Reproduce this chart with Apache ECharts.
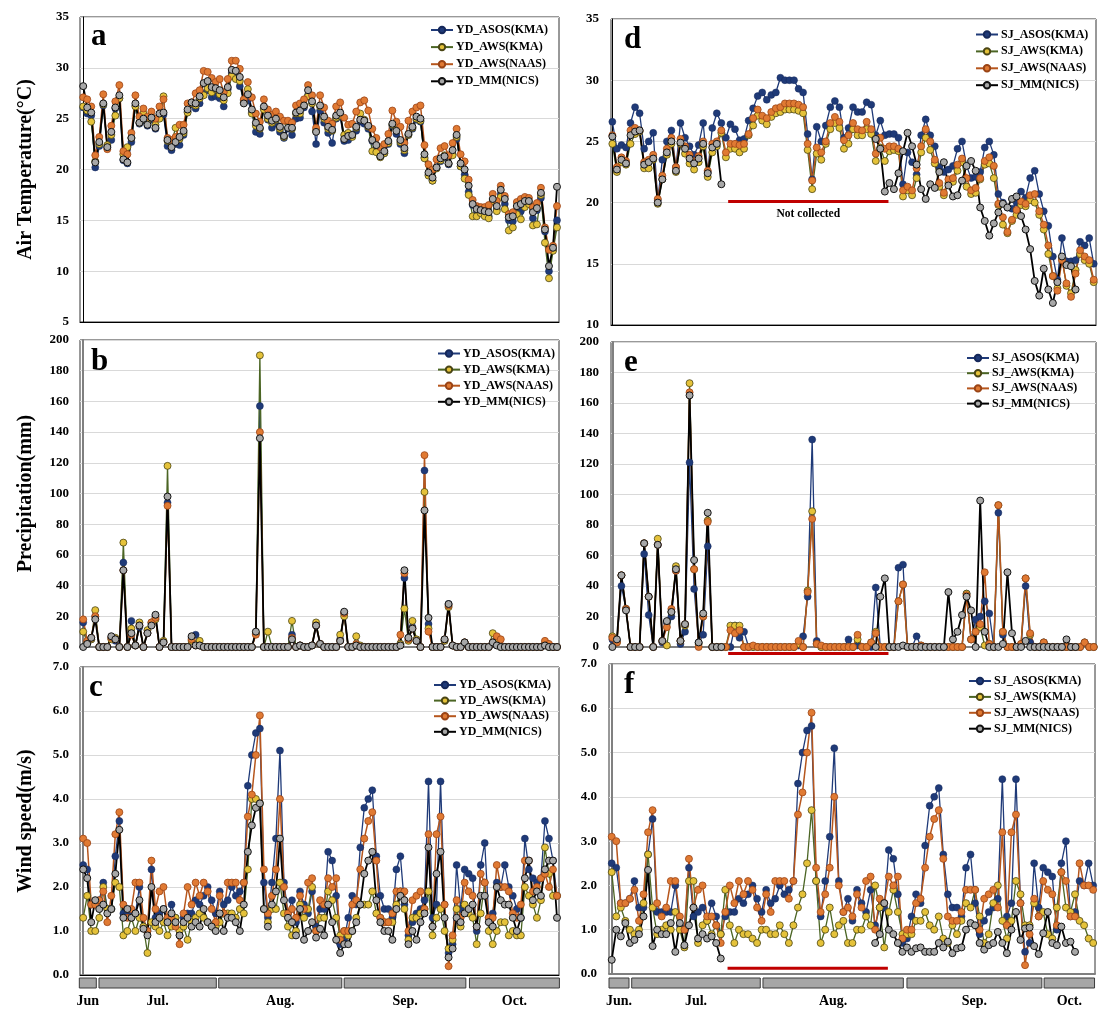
<!DOCTYPE html>
<html><head><meta charset="utf-8">
<script src="https://cdn.jsdelivr.net/npm/echarts@6/dist/echarts.min.js"></script>
<style>html,body{margin:0;padding:0;background:#fff}#c{width:1108px;height:1016px}</style>
</head><body><div id="c"></div>
<script>
// ---------- DATA: left site (YD), day index 0..118 ----------
const namesL = ['YD_ASOS(KMA)','YD_AWS(KMA)','YD_AWS(NAAS)','YD_MM(NICS)'];
const namesR = ['SJ_ASOS(KMA)','SJ_AWS(KMA)','SJ_AWS(NAAS)','SJ_MM(NICS)'];

const a_ASOS = [26.1,25.5,25.3,20.2,22.3,26.3,22.2,22.9,26.0,27.0,20.9,20.6,22.7,26.3,24.5,24.8,24.3,24.9,24.0,25.3,25.4,22.3,21.9,22.5,22.4,23.4,25.7,26.4,26.0,26.5,27.5,27.8,27.1,27.2,27.0,26.2,27.9,29.5,29.4,28.2,26.8,26.8,25.6,23.7,23.5,26.0,24.9,24.1,24.5,23.7,23.1,24.0,23.4,25.0,25.1,26.1,27.3,25.7,22.5,25.8,24.6,23.6,22.6,25.0,25.2,22.8,22.9,23.3,23.8,24.7,24.5,24.0,22.8,22.2,21.3,21.6,22.5,24.3,23.5,22.5,21.6,23.4,24.0,24.9,24.7,21.2,19.5,18.9,20.2,20.8,21.2,20.5,21.5,23.0,20.3,19.5,17.8,16.5,15.7,15.8,15.5,15.4,16.9,16.1,17.6,16.6,15.0,14.9,15.8,15.9,16.5,16.7,15.2,16.0,17.2,13.9,10.0,12.1,15.0];
const a_KMA = [26.2,25.8,24.7,20.8,22.5,26.4,22.4,23.4,25.3,27.0,21.5,22.2,23.1,26.2,24.6,25.5,24.6,25.2,24.4,25.0,27.2,22.8,22.6,24.1,23.0,23.6,25.6,26.5,26.3,27.0,27.3,28.0,27.6,27.9,27.4,26.8,27.5,29.2,28.9,28.7,26.6,27.9,25.5,24.3,24.0,25.9,25.0,24.6,24.9,24.0,23.2,24.6,24.0,25.5,25.5,26.3,27.2,26.5,23.8,26.2,25.0,24.0,23.8,25.1,25.3,23.4,23.6,23.2,24.1,25.5,24.9,24.2,21.8,21.7,21.2,21.6,22.6,24.4,23.9,22.7,21.9,23.4,24.1,25.0,24.8,21.1,19.4,18.9,20.1,20.9,21.4,20.6,21.4,23.2,20.3,19.1,17.5,15.4,15.4,15.7,15.4,15.2,16.9,15.9,17.3,16.1,14.0,14.3,15.6,15.1,16.3,16.6,14.5,14.6,17.5,12.8,9.3,12.0,14.3];
const a_NAAS = [27.1,26.9,26.2,21.4,23.2,27.4,22.0,24.3,26.7,28.3,21.8,21.5,23.6,27.3,25.2,26.0,25.2,25.7,25.0,26.2,26.9,23.1,22.9,23.2,24.4,24.4,26.5,26.6,27.5,27.8,29.7,29.6,29.0,28.6,28.9,27.6,28.9,30.7,30.7,29.9,26.9,28.6,27.1,25.5,24.7,26.9,25.9,25.4,25.7,25.2,24.8,24.8,24.6,26.3,26.5,26.9,28.3,27.3,24.1,27.3,26.1,24.8,24.5,26.2,26.6,25.1,24.4,24.5,25.7,26.6,26.8,25.8,24.0,23.1,22.2,22.5,23.5,25.8,24.7,24.2,22.6,24.8,25.7,26.1,26.3,22.4,20.5,20.0,21.0,22.1,22.3,21.4,22.6,24.0,21.5,20.8,19.0,17.0,16.4,16.3,16.3,16.5,17.6,16.9,18.4,17.4,15.6,15.8,16.8,17.1,17.3,17.2,16.3,16.7,18.2,14.3,12.1,12.5,16.4];
const a_MM = [28.2,26.1,25.6,20.7,22.7,26.5,22.2,23.7,26.1,27.3,21.0,20.7,23.1,26.5,24.6,25.0,24.4,25.1,24.1,25.5,25.6,22.9,22.2,22.7,23.2,23.8,25.9,26.6,26.5,27.2,28.5,28.7,28.1,28.0,27.8,27.1,28.1,29.8,29.7,29.1,26.5,27.4,25.9,24.6,24.1,26.2,25.3,24.8,25.0,24.2,23.3,24.1,24.1,25.6,25.8,26.3,27.8,26.7,23.7,26.3,25.2,24.2,23.9,25.3,25.6,23.0,23.3,23.4,24.2,24.9,24.8,24.3,22.9,22.4,21.3,21.8,22.8,24.5,23.8,22.9,22.1,23.5,24.2,25.2,25.0,21.5,19.7,19.2,20.2,21.1,21.3,20.6,21.9,23.4,20.6,20.0,18.4,16.6,16.1,16.0,15.9,15.8,17.1,16.4,18.0,17.1,15.3,15.4,16.4,16.6,16.9,16.9,15.8,16.2,17.7,14.1,10.5,12.3,18.3];

const b_ASOS = [16,3,5,20,0,0,0,6,4,0,55,0,17,1,13,0,9,15,20,0,3,94,0,0,0,0,0,6,8,1,0,0,0,0,0,0,0,0,0,0,0,0,0,9,157,0,0,0,0,0,0,0,8,0,1,0,0,1,14,2,0,0,0,0,5,22,0,0,1,0,0,0,0,0,0,0,0,0,0,2,45,6,13,4,0,115,15,0,0,0,4,28,1,0,0,3,0,0,0,0,0,0,2,2,0,0,0,0,0,0,0,0,0,0,0,2,0,0,0];
const b_KMA = [10,3,5,24,0,0,0,5,6,0,68,0,12,1,16,0,11,16,18,0,4,118,0,0,0,0,0,4,2,4,0,0,0,0,0,0,0,0,0,0,0,0,0,9,190,0,10,0,0,0,0,0,17,0,1,0,0,1,16,2,0,0,0,0,8,20,0,0,7,1,0,0,0,0,0,0,0,0,0,2,25,4,17,5,0,101,12,0,0,0,4,26,1,0,0,3,0,0,0,0,0,0,9,5,0,0,0,0,0,0,0,0,0,0,0,2,0,0,0];
const b_NAAS = [18,4,6,20,0,0,0,6,5,0,50,0,8,1,14,0,9,16,19,0,3,92,0,0,0,0,0,5,1,1,0,0,0,0,0,0,0,0,0,0,0,0,0,8,140,0,0,0,0,0,0,0,6,0,1,0,0,1,14,2,0,0,0,0,4,22,0,0,2,0,0,0,0,0,0,0,0,0,0,8,48,5,12,4,0,125,10,0,0,0,5,27,1,0,0,3,0,0,0,0,0,0,3,7,5,0,0,0,0,0,0,0,0,0,0,4,2,0,0];
const b_MM = [0,2,6,18,0,0,0,7,5,0,50,0,9,1,14,0,9,14,21,0,3,98,0,0,0,0,0,7,1,1,0,0,0,0,0,0,0,0,0,0,0,0,0,10,136,0,0,0,0,0,0,0,5,0,1,0,0,1,14,2,0,0,0,0,4,23,0,0,1,0,0,0,0,0,0,0,0,0,0,1,50,6,12,4,0,89,19,0,0,0,5,28,1,0,0,3,0,0,0,0,0,0,3,1,0,0,0,0,0,0,0,0,0,0,0,1,0,0,0];

const c_ASOS = [2.5,2.4,1.6,1.6,1.7,2.1,1.5,1.5,2.7,3.5,1.4,1.4,1.4,1.4,2.0,1.1,1.0,2.4,1.3,1.4,1.5,1.2,1.6,1.3,0.9,1.3,1.4,1.4,1.7,1.6,1.8,2.0,1.7,1.4,1.9,1.6,1.7,2.0,1.8,1.9,2.1,4.3,5.0,5.5,5.6,2.1,1.3,2.1,3.1,5.1,2.1,1.4,1.7,1.2,1.9,1.6,1.4,1.9,1.1,1.5,1.5,2.8,2.6,1.8,0.7,0.8,1.3,1.8,1.6,2.9,3.8,4.0,4.2,2.7,1.8,1.5,1.5,1.3,2.4,2.7,1.6,0.9,1.2,1.4,1.5,1.7,4.4,1.3,1.6,4.4,1.6,0.5,0.7,2.5,1.5,2.4,2.3,2.2,1.0,2.5,3.0,1.3,1.4,2.1,2.0,2.5,2.0,1.8,1.5,1.3,3.1,2.4,2.2,2.1,2.2,3.5,3.1,2.6,1.8];
const c_KMA = [1.3,1.8,1.0,1.0,1.3,2.0,1.5,1.5,2.1,2.0,0.9,1.0,1.3,1.0,1.3,1.1,0.5,1.2,1.1,1.0,1.2,0.9,1.1,1.3,1.0,1.1,0.8,1.2,1.3,1.4,1.3,1.2,1.1,1.1,1.2,1.4,1.4,1.4,1.3,1.5,1.4,2.4,4.0,4.0,3.9,1.5,1.2,1.5,1.5,2.1,1.4,1.1,0.9,1.0,1.6,1.3,1.5,2.0,1.0,1.3,1.3,1.9,1.7,1.3,0.9,1.0,0.9,1.0,1.3,1.6,1.6,1.6,1.9,1.4,1.3,1.2,1.2,1.2,1.6,1.9,1.5,0.8,1.3,1.3,1.4,1.5,1.9,0.9,1.3,1.5,1.0,0.6,0.8,1.5,1.1,1.6,1.4,1.3,0.7,1.4,2.1,1.0,0.7,1.0,1.2,1.2,0.9,1.0,0.9,0.9,2.0,1.8,1.6,1.3,1.7,2.9,2.3,1.8,1.8];
const c_NAAS = [3.1,3.0,1.6,1.6,1.7,1.9,1.2,1.8,3.2,3.7,1.6,1.3,1.5,2.1,2.1,1.3,1.0,2.6,1.5,1.9,2.0,1.3,1.3,1.1,0.7,1.4,2.0,1.6,2.1,1.8,2.1,1.9,1.5,1.2,1.8,1.4,2.1,2.1,2.1,1.7,2.1,3.6,4.1,5.0,5.9,2.4,1.4,1.8,2.4,4.0,2.0,1.4,1.5,1.3,1.8,1.5,2.1,2.2,1.0,1.7,1.6,2.2,2.0,2.2,0.8,1.0,1.0,1.6,1.7,2.4,3.1,3.5,3.7,2.6,1.3,1.2,1.2,1.4,1.9,1.9,1.9,1.0,1.7,1.8,1.9,1.5,3.2,1.1,3.2,3.6,1.6,0.2,0.9,1.7,1.3,2.1,1.9,1.8,1.1,2.3,2.1,1.3,1.3,2.5,2.0,2.0,1.9,1.4,1.3,1.6,2.6,2.6,1.9,2.0,2.2,2.3,2.0,2.4,1.8];
const c_MM = [2.4,2.2,1.2,1.7,1.5,1.6,1.4,1.5,2.3,3.3,1.3,1.5,1.3,1.4,1.7,1.05,0.9,2.0,1.2,1.3,1.5,1.2,1.4,1.2,0.9,1.2,1.3,1.1,1.2,1.1,1.5,1.2,1.1,1.0,1.4,1.0,1.3,1.3,1.2,1.0,1.6,2.8,3.4,3.8,3.9,1.5,1.1,1.6,1.9,3.1,1.7,1.3,1.2,0.9,1.5,0.8,1.0,1.2,0.85,1.05,0.9,1.6,1.2,0.8,0.5,0.7,0.7,1.0,1.2,1.6,2.3,2.6,2.8,1.7,1.2,1.0,1.0,0.8,1.5,1.8,1.7,0.7,1.0,0.8,1.2,1.4,2.9,1.1,2.3,2.8,1.3,0.4,0.6,1.3,1.2,1.4,1.5,1.6,1.1,1.8,1.8,1.2,1.1,2.0,1.7,1.6,1.6,1.3,1.0,1.3,2.2,2.6,1.7,1.9,1.8,2.4,2.6,2.6,1.3];

// ---------- DATA: right site (SJ), day index 0..106 ----------
const d_ASOS = [26.6,24.4,24.7,24.5,26.5,27.8,27.3,24.4,25.0,25.7,20.2,23.5,25.0,25.9,22.9,26.5,25.3,24.6,23.9,24.7,26.5,22.5,26.1,27.3,26.5,25.3,26.4,26.0,25.1,25.2,26.7,27.7,28.7,29.0,28.4,28.8,29.0,30.2,30.0,30.0,30.0,29.3,29.0,25.6,21.9,26.2,25.0,26.3,27.8,28.3,27.8,25.3,26.1,27.8,27.4,27.4,28.2,28.0,25.5,26.7,25.5,25.6,25.6,25.3,21.5,24.1,23.3,22.3,25.5,26.8,25.5,24.6,22.9,22.5,22.7,23.0,24.4,25.0,23.0,22.0,22.1,22.5,24.5,25.0,23.9,20.7,20.0,19.6,19.5,20.0,20.9,20.4,22.0,22.6,20.7,19.3,18.1,15.6,13.7,17.1,15.2,15.2,15.3,16.8,16.5,17.1,15.0];
const d_KMA = [24.8,22.5,23.3,23.1,24.8,25.6,25.8,22.8,22.8,23.5,19.9,21.9,23.9,24.8,22.5,24.8,24.0,23.2,22.7,23.3,24.6,22.1,24.1,24.6,25.7,23.7,24.4,24.4,24.1,24.4,25.5,26.3,27.1,26.7,26.4,27.0,27.3,27.4,27.6,27.6,27.6,27.5,27.3,24.3,21.1,24.0,23.5,24.8,26.0,26.5,26.1,24.4,24.8,26.0,25.5,25.5,26.0,25.6,23.4,24.5,23.4,24.2,24.3,24.2,20.5,21.0,20.6,22.0,24.1,25.3,24.3,23.2,21.3,20.6,21.6,21.7,22.6,23.3,21.3,20.7,20.8,21.9,23.1,23.2,22.0,19.8,18.2,17.5,18.5,19.0,19.8,19.7,20.2,20.0,19.0,17.8,15.8,14.0,13.0,15.5,13.2,12.6,14.5,15.8,15.3,15.0,13.5];
const d_NAAS = [25.5,22.9,23.7,23.4,25.9,26.1,25.9,23.3,23.5,23.9,20.3,22.2,24.4,25.3,22.9,25.2,24.6,23.9,23.4,23.8,25.0,22.6,24.8,25.0,25.9,24.1,24.8,24.8,24.7,24.8,25.6,26.9,27.6,27.1,26.9,27.4,27.7,27.8,28.1,28.1,28.1,28.0,27.8,24.8,21.8,24.5,24.1,25.0,26.5,27.0,26.6,25.1,25.5,26.5,26.0,25.9,26.6,26.0,24.0,25.3,24.4,24.6,24.6,24.4,21.0,21.3,21.0,22.8,24.6,26.0,25.0,23.5,21.6,20.8,21.9,22.0,23.1,23.6,22.0,21.0,21.2,22.0,23.4,23.7,23.0,19.9,18.8,17.6,18.6,19.4,20.1,19.9,20.6,20.7,19.3,18.2,16.5,14.0,12.8,15.3,13.4,12.3,14.2,16.1,15.6,15.3,13.7];
const d_MM = [25.4,22.7,23.5,23.2,25.5,25.8,25.9,23.1,23.3,23.6,20.0,21.9,24.1,25.0,22.6,24.9,24.4,23.6,23.2,23.6,24.8,22.4,24.5,24.8,21.5,
  null,null,null,null,null,null,null,null,null,null,null,null,null,null,null,null,null,null,null,null,null,null,null,null,null,null,null,null,null,null,null,null,null,
  25.2,24.4,20.9,21.6,21.1,22.4,24.2,25.7,24.6,23.1,21.1,20.3,21.5,21.2,22.5,23.3,21.4,20.5,20.6,21.8,23.0,23.4,22.6,19.6,18.5,17.3,18.3,19.2,19.9,19.6,20.3,20.5,18.9,17.8,16.2,13.6,12.4,14.6,12.9,11.8,13.5,15.6,14.9,14.8,12.9];

const e_ASOS = [5,4,40,25,0,0,0,61,21,0,67,3,16,20,50,2,10,121,38,3,8,66,0,0,0,0,0,14,6,10,0,0,0,0,0,0,0,0,0,0,0,1,7,33,136,4,0,0,0,0,0,0,5,0,1,0,0,0,39,0,0,0,0,52,54,0,0,7,0,0,0,0,0,0,0,0,0,0,35,5,18,20,30,22,0,88,8,0,0,0,1,40,3,0,0,3,0,0,0,0,0,0,0,0,3,0,0];
const e_KMA = [7,3,47,25,0,0,0,68,33,0,71,4,1,23,53,4,14,173,51,2,20,83,0,0,0,0,14,14,14,0,0,0,0,0,0,0,0,0,0,0,0,2,0,37,89,2,0,0,0,0,0,0,0,0,5,0,0,3,10,0,0,0,0,30,41,0,0,0,1,0,0,0,0,0,0,0,0,0,35,5,10,13,1,2,0,93,10,0,0,0,2,45,8,0,0,3,0,0,0,0,0,0,0,0,3,0,0];
const e_NAAS = [6,3,47,25,0,0,0,68,33,0,67,4,13,25,50,4,15,167,51,0,20,82,0,0,0,0,11,9,11,0,0,1,0,0,0,0,0,0,0,0,0,4,0,36,84,2,1,0,0,0,0,0,0,0,8,0,0,3,9,0,0,0,0,30,41,0,0,0,1,0,0,0,0,0,0,0,0,0,34,5,10,15,49,2,0,93,10,0,0,0,2,45,9,0,0,3,0,0,0,0,0,0,0,0,3,0,0];
const e_MM = [0,5,47,24,0,0,0,68,33,0,67,4,17,23,51,4,15,165,57,3,22,88,0,0,0,
  null,null,null,null,null,null,null,null,null,null,null,null,null,null,null,null,null,null,null,null,null,null,null,null,null,null,null,null,null,null,null,null,null,
  0,33,45,0,0,0,1,0,0,0,0,0,0,0,0,0,36,5,10,21,33,24,0,96,10,0,0,0,2,49,9,0,0,4,0,0,0,0,0,0,0,0,5,0,0];

const f_ASOS = [2.5,2.4,1.6,1.6,1.7,2.1,1.5,1.5,2.7,3.5,1.4,1.4,1.4,1.4,2.0,1.1,1.0,2.4,1.3,1.4,1.5,1.2,1.6,1.3,0.9,1.3,1.4,1.4,1.7,1.6,1.8,2.0,1.7,1.4,1.9,1.6,1.7,2.0,1.8,1.9,2.1,4.3,5.0,5.5,5.6,2.1,1.3,2.1,3.1,5.1,2.1,1.4,1.7,1.2,1.9,1.6,1.4,1.9,1.1,1.5,1.5,2.8,2.6,1.8,0.7,0.8,1.3,1.8,1.6,2.9,3.8,4.0,4.2,2.7,1.8,1.5,1.5,1.3,2.4,2.7,1.6,0.9,1.2,1.4,1.5,1.7,4.4,1.3,1.6,4.4,1.6,0.5,0.7,2.5,1.5,2.4,2.3,2.2,1.0,2.5,3.0,1.3,1.4,2.1,2.0,2.5,2.0];
const f_KMA = [2.3,1.3,1.5,1.2,1.0,0.9,1.0,1.6,2.7,1.5,0.9,1.0,1.1,1.0,1.4,1.0,0.6,2.1,2.1,0.7,1.1,1.2,0.9,1.1,0.9,1.9,1.1,0.7,1.0,0.9,0.9,0.8,0.7,1.0,1.0,0.9,0.9,1.1,0.9,0.7,1.1,1.5,1.8,2.5,3.7,2.1,0.7,1.0,1.5,0.9,1.1,1.2,0.7,0.7,1.0,1.0,1.3,1.1,2.0,1.5,0.6,1.4,1.9,1.4,0.9,0.9,0.9,1.2,1.2,1.4,1.1,1.0,1.3,0.8,0.7,1.1,0.9,1.2,1.6,1.5,1.9,1.3,0.7,0.9,1.6,2.0,1.2,0.8,1.2,2.1,1.8,1.1,1.1,1.6,1.3,1.4,0.9,0.8,1.5,2.3,1.5,1.4,1.8,1.2,1.1,0.8,0.7];
const f_NAAS = [3.1,3.0,1.6,1.6,1.7,1.9,1.2,1.8,3.2,3.7,1.6,1.3,1.5,2.1,2.1,1.3,1.0,2.6,1.5,1.9,2.0,1.3,1.3,1.1,0.7,1.4,2.0,1.6,2.1,1.8,2.1,1.9,1.5,1.2,1.8,1.4,2.1,2.1,2.1,1.7,2.1,3.6,4.1,5.0,5.9,2.4,1.4,1.8,2.4,4.0,2.0,1.4,1.5,1.3,1.8,1.5,2.1,2.2,1.0,1.7,1.6,2.2,2.0,2.2,0.8,1.0,1.0,1.6,1.7,2.4,3.1,3.5,3.7,2.6,1.3,1.2,1.2,1.4,1.9,1.9,1.9,1.0,1.7,1.8,1.9,1.5,3.2,1.1,3.2,3.6,1.6,0.2,0.9,1.7,1.3,2.1,1.9,1.8,1.1,2.3,2.1,1.3,1.3,2.5,2.0,2.0,1.9];
const f_MM = [0.32,1.0,0.85,1.15,0.7,0.77,0.9,1.3,2.35,0.63,1.0,0.9,0.9,1.15,0.5,1.15,0.65,1.1,1.5,0.8,0.9,0.8,0.85,0.7,0.35,
  null,null,null,null,null,null,null,null,null,null,null,null,null,null,null,null,null,null,null,null,null,null,null,null,null,null,null,null,null,null,null,null,null,
  0.7,0.9,1.6,1.0,0.9,0.7,0.5,0.6,0.5,0.58,0.6,0.5,0.5,0.5,0.7,0.6,0.73,0.47,0.58,0.6,1.0,1.15,1.1,0.7,0.55,0.65,0.7,0.95,0.7,0.47,1.0,1.4,0.77,1.03,1.05,0.63,0.45,0.92,1.4,0.7,0.65,1.07,0.7,0.73,0.5];

// month bars (day-index ranges) and "not collected" period
const monthNamesL = ['Jun','Jul.','Aug.','Sep.','Oct.'];
const monthStartL = [-0.97, 3.93, 33.75, 65.0, 96.2];
const monthEndL   = [3.26, 33.15, 64.4, 95.3, 118.6];
const monthNamesR = ['Jun.','Jul.','Aug.','Sep.','Oct.'];
const monthStartR = [-0.6, 4.4, 33.3, 65.0, 95.2];
const monthEndR   = [3.8, 32.7, 64.2, 94.7, 106.3];
const notCollected = [25.5, 60.8];

// ---------- CHART ----------
const FONT = '"Liberation Serif","Times New Roman",serif';
const STY = [
  {line:'#1f3a78', fill:'#1f3a78', border:'#15285a', bw:0.5, w:1.3},
  {line:'#4b6524', fill:'#e5c23a', border:'#4a4514', bw:0.8, w:1.3},
  {line:'#b6561d', fill:'#e07a33', border:'#9a4416', bw:0.8, w:1.5},
  {line:'#000000', fill:'#a8a8a8', border:'#111111', bw:1, w:1.8}
];
function mk(name, arr, k, gi){
  const s = STY[k];
  return {type:'line', name, xAxisIndex:gi, yAxisIndex:gi,
    data: arr.map((v,i)=>[i,v]), symbol:'circle', symbolSize:7, showAllSymbol:true,
    connectNulls:false, lineStyle:{color:s.line, width:s.w},
    itemStyle:{color:s.fill, borderColor:s.border, borderWidth:s.bw},
    emphasis:{disabled:true}, silent:true};
}
const grids = [
  {left:80, top:17, width:479, height:305},
  {left:80, top:340, width:479, height:307},
  {left:80, top:667, width:479, height:308},
  {left:611, top:19, width:485, height:306},
  {left:611, top:342, width:485, height:305},
  {left:609, top:664, width:486, height:310},
  {left:80, top:978, width:479, height:10},
  {left:609, top:978, width:486, height:10}
].map((g,i)=>Object.assign({show:i<6, borderColor:'#333', borderWidth:1, backgroundColor:'#fff'}, g));

const xr = [[-0.8,118.5],[-0.8,118.5],[-0.8,118.5],[-0.3,106.5],[-0.3,106.5],[-0.6,106.4],[-0.8,118.5],[-0.6,106.4]];
const xLineCol = ['#000','#808080','#000','#000','#808080','#808080'];
const xAxis = xr.map((r,i)=>({type:'value', gridIndex:i, min:r[0], max:r[1], show:i<6,
  axisLabel:{show:false}, axisTick:{show:false}, splitLine:{show:false},
  axisLine:{show:true, onZero:false, lineStyle:{color:xLineCol[i]||'#000', width:i===0||i===2||i===3?1:2}}}));

const yCfg = [
  {min:5,max:35,interval:5,name:'Air Temperature(°C)'},
  {min:0,max:200,interval:20,name:'Precipitation(mm)'},
  {min:0,max:7,interval:1,name:'Wind speed(m/s)',fmt:true},
  {min:10,max:35,interval:5},
  {min:0,max:200,interval:20},
  {min:0,max:7,interval:1,fmt:true}
];
const yAxis = yCfg.map((c,i)=>({type:'value', gridIndex:i, min:c.min, max:c.max, interval:c.interval,
  name:c.name||'', nameLocation:'middle', nameRotate:90, nameGap:44,
  nameTextStyle:{fontFamily:FONT, fontWeight:'bold', fontSize:20, color:'#000'},
  axisLine:{show:true, lineStyle:{color:(i===0||i===3)?'#000':'#808080', width:(i===0||i===3)?1:2}},
  axisTick:{show:false},
  axisLabel:{fontFamily:FONT, fontWeight:'bold', fontSize:13, color:'#000', margin:i<3?11:12,
    formatter: c.fmt ? (v=>v.toFixed(1)) : (v=>String(v))},
  splitLine:{show:true, lineStyle:{color:'#d9d9d9', width:1}}}));
yAxis.push({type:'value', gridIndex:6, min:0, max:1, show:false});
yAxis.push({type:'value', gridIndex:7, min:0, max:1, show:false});

function mkLegend(names, left, top, gap){
  return {data:names, left, top, orient:'vertical', itemWidth:22, itemHeight:8, itemGap:gap,
    selectedMode:false, padding:0,
    textStyle:{fontFamily:FONT, fontWeight:'bold', fontSize:12, color:'#000', padding:[0,0,0,-2]}};
}
const legend = [
  mkLegend(namesL, 430, 24, 5.1),
  mkLegend(namesL, 437, 347.5, 4.1),
  mkLegend(namesL, 433, 679, 3.6),
  mkLegend(namesR, 975, 28.5, 4.9),
  mkLegend(namesR, 966, 352, 3.2),
  mkLegend(namesR, 968, 675, 3.9)
];
const letters = [['a',91,21],['b',91,346],['c',89,672],['d',624,24],['e',624,347],['f',624,669]];
const title = letters.map(l=>({text:l[0], left:l[1], top:l[2], padding:0,
  textStyle:{fontFamily:FONT, fontWeight:'bold', fontSize:31, color:'#000'}}));

const panels = [
  [a_ASOS,a_KMA,a_NAAS,a_MM,namesL],
  [b_ASOS,b_KMA,b_NAAS,b_MM,namesL],
  [c_ASOS,c_KMA,c_NAAS,c_MM,namesL],
  [d_ASOS,d_KMA,d_NAAS,d_MM,namesR],
  [e_ASOS,e_KMA,e_NAAS,e_MM,namesR],
  [f_ASOS,f_KMA,f_NAAS,f_MM,namesR]
];
const series = [];
panels.forEach((p,gi)=>{ for(let k=0;k<4;k++) series.push(mk(p[4][k], p[k], k, gi)); });

function monthRender(names){
  return function(params, api){
    const s = api.coord([api.value(0), 1]);
    const e = api.coord([api.value(1), 0]);
    return {type:'group', children:[
      {type:'rect', shape:{x:s[0], y:s[1], width:e[0]-s[0], height:e[1]-s[1]},
        style:{fill:'#a6a6a6', stroke:'#3a3a3a', lineWidth:1}},
      {type:'text', style:{text:names[params.dataIndex], x:(s[0]+e[0])/2, y:e[1]+13.5,
        align:'center', verticalAlign:'middle', fontFamily:FONT, fontWeight:'bold', fontSize:14, fill:'#000'}}
    ]};
  };
}
series.push({type:'custom', name:'monthL', xAxisIndex:6, yAxisIndex:6, clip:false, silent:true,
  renderItem:monthRender(monthNamesL), encode:{x:[0,1]},
  data:monthStartL.map((s,i)=>[s, monthEndL[i]])});
series.push({type:'custom', name:'monthR', xAxisIndex:7, yAxisIndex:7, clip:false, silent:true,
  renderItem:monthRender(monthNamesR), encode:{x:[0,1]},
  data:monthStartR.map((s,i)=>[s, monthEndR[i]])});

function redRender(label){
  return function(params, api){
    const p1 = api.coord([api.value(0), api.value(2)]);
    const p2 = api.coord([api.value(1), api.value(2)]);
    const ch = [{type:'line', shape:{x1:p1[0], y1:p1[1], x2:p2[0], y2:p2[1]},
      style:{stroke:'#c00000', lineWidth:3}}];
    if(label) ch.push({type:'text', style:{text:label, x:(p1[0]+p2[0])/2, y:p1[1]+13,
      align:'center', verticalAlign:'middle', fontFamily:FONT, fontWeight:'bold', fontSize:11.5, fill:'#000'}});
    return {type:'group', children:ch};
  };
}
[[3,20.1,'Not collected'],[4,-4.2,''],[5,0.13,'']].forEach(r=>{
  series.push({type:'custom', name:'nc'+r[0], xAxisIndex:r[0], yAxisIndex:r[0], clip:false, silent:true, z:5,
    renderItem:redRender(r[2]), encode:{x:[0,1], y:2},
    data:[[notCollected[0], notCollected[1], r[1]]]});
});

const chart = echarts.init(document.getElementById('c'), null, {renderer:'canvas'});
chart.setOption({animation:false, backgroundColor:'#fff', title, legend, grid:grids, xAxis, yAxis, series});
</script></body></html>
